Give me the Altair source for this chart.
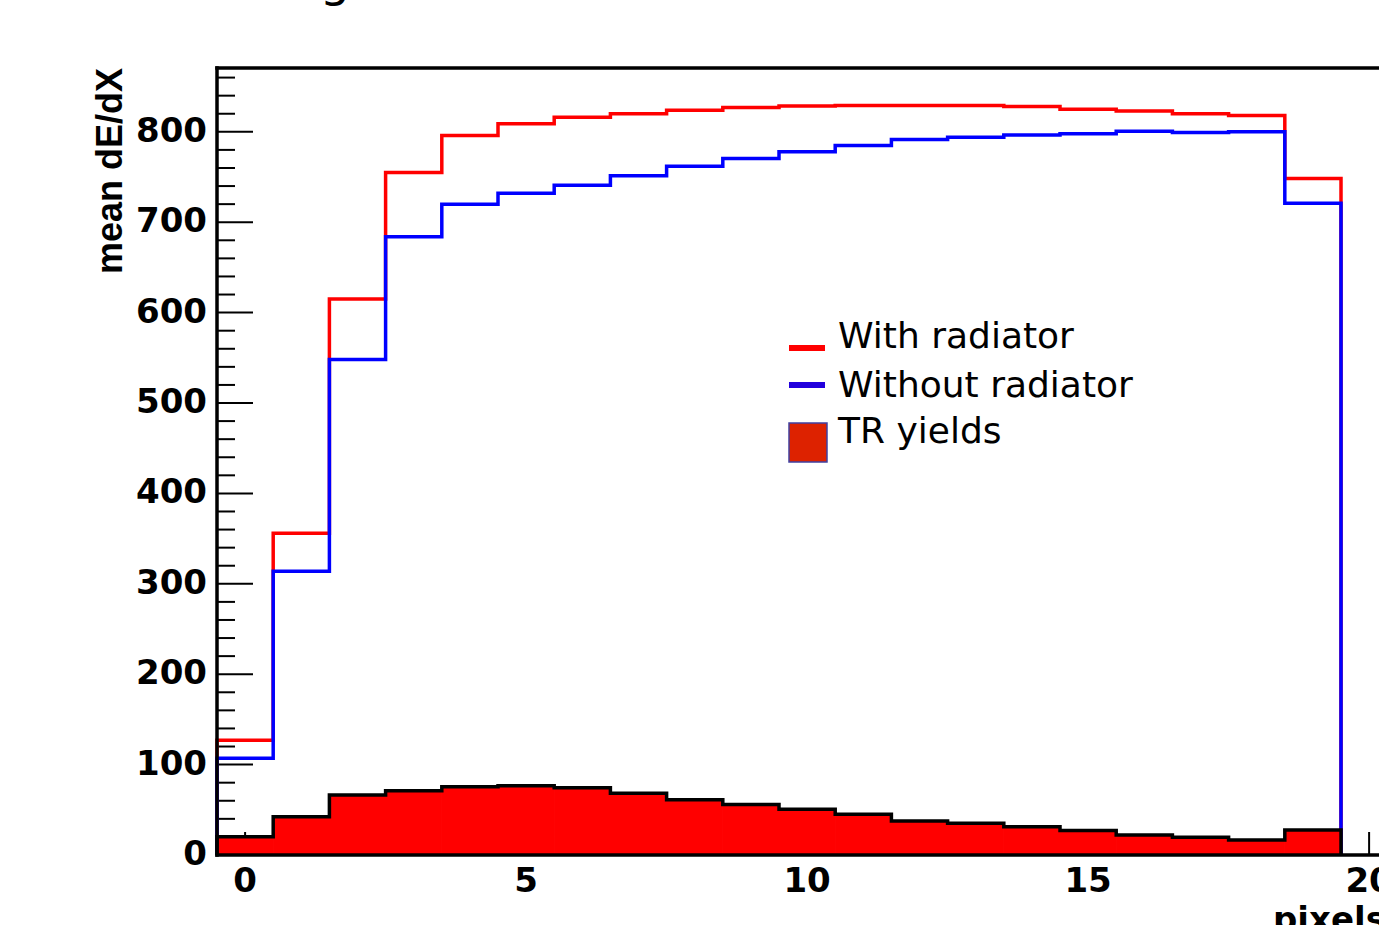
import altair as alt
import pandas as pd

# ---- data ----
bins = list(range(20))
with_rad = [127, 356, 615, 755, 796, 809, 816, 820, 824, 827, 828.5, 829, 829, 829, 828, 825, 823, 820, 818, 748.5]
without_rad = [107, 314, 548, 684, 720, 732, 741, 751.5, 762, 770.5, 778, 785, 791.5, 794, 796.5, 798, 800.5, 799.3, 800, 721]
tr_yield = [20.3, 42.4, 66.4, 71.2, 75.6, 76.7, 74.5, 68.2, 61, 56, 50.5, 45, 37.6, 35, 31.3, 27, 22, 19.5, 16.6, 27.6]
x_tick_labels = [0, 5, 10, 15, 20]
y_tick_labels = [0, 100, 200, 300, 400, 500, 600, 700, 800]
legend_labels = ["With radiator", "Without radiator", "TR yields"]
y_title = "mean dE/dX"
x_title = "pixels"

W, H = 1162, 787
xs = alt.Scale(domain=[-0.5, 20.176], nice=False, zero=False)
ys = alt.Scale(domain=[0, 870.6], nice=False, zero=False)


def step_outline(vals):
    x = [bins[0] - 0.5] + [b - 0.5 for b in bins] + [bins[-1] + 0.5, bins[-1] + 0.5]
    y = [0] + list(vals) + [vals[-1], 0]
    return pd.DataFrame({"x": x, "y": y, "idx": list(range(len(x)))})


def step_area(vals):
    x = [b - 0.5 for b in bins] + [bins[-1] + 0.5]
    y = list(vals) + [vals[-1]]
    return pd.DataFrame({"x": x, "y": y, "idx": list(range(len(x)))})


y_minor = [v for v in range(0, 861, 20) if v % 100 != 0]
x_minor = [v for v in range(0, 21) if v % 5 != 0]

one = alt.Data(values=[{"a": 0}])

# tick labels, drawn through the scales -----------------------------------
y_labels = alt.Chart(pd.DataFrame({"v": y_tick_labels})).mark_text(
    align="right", baseline="middle", font="DejaVu Sans", fontWeight="bold", fontSize=34, color="black"
).encode(y=alt.Y("v:Q", scale=ys, axis=None), text="v:Q", x=alt.value(-10))
x_labels = alt.Chart(pd.DataFrame({"v": x_tick_labels})).mark_text(
    align="center", baseline="top", font="DejaVu Sans", fontWeight="bold", fontSize=34, color="black"
).encode(x=alt.X("v:Q", scale=xs, axis=None), text="v:Q", y=alt.value(H + 10))

y_title_text = alt.Chart(one).mark_text(
    text=y_title, angle=270, align="right", baseline="alphabetic", font="Liberation Sans",
    fontWeight="bold", fontSize=36, color="black"
).encode(x=alt.value(-95), y=alt.value(0))

# ticks (inside, ROOT style) ---------------------------------------------
y_major_ticks = alt.Chart(pd.DataFrame({"v": y_tick_labels})).mark_rule(color="black", strokeWidth=2).encode(
    y=alt.Y("v:Q", scale=ys, axis=None), x=alt.value(0), x2=alt.value(36))
y_minor_ticks = alt.Chart(pd.DataFrame({"v": y_minor})).mark_rule(color="black", strokeWidth=2).encode(
    y=alt.Y("v:Q", scale=ys, axis=None), x=alt.value(0), x2=alt.value(18))
x_major_ticks = alt.Chart(pd.DataFrame({"v": x_tick_labels})).mark_rule(color="black", strokeWidth=2).encode(
    x=alt.X("v:Q", scale=xs, axis=None), y=alt.value(H), y2=alt.value(H - 23))
x_minor_ticks = alt.Chart(pd.DataFrame({"v": x_minor})).mark_rule(color="black", strokeWidth=2).encode(
    x=alt.X("v:Q", scale=xs, axis=None), y=alt.value(H), y2=alt.value(H - 11))


def hist_line(vals, color, width=3.5):
    return alt.Chart(step_outline(vals)).mark_line(
        interpolate="step-after", color=color, strokeWidth=width, strokeCap="butt", strokeJoin="miter"
    ).encode(
        x=alt.X("x:Q", scale=xs, axis=None),
        y=alt.Y("y:Q", scale=ys, axis=None),
        order="idx:Q",
    )


red_line = hist_line(with_rad, "#ff0000")
blue_line = hist_line(without_rad, "#0000ff")
fill_area = alt.Chart(step_area(tr_yield)).mark_area(
    interpolate="step-after", fill="#ff0000", stroke="#ff0000", strokeWidth=1, opacity=1
).encode(
    x=alt.X("x:Q", scale=xs, axis=None),
    y=alt.Y("y:Q", scale=ys, axis=None),
    order="idx:Q",
)
fill_outline = hist_line(tr_yield, "black", 3.5)

# frame ------------------------------------------------------------------
top_frame = alt.Chart(one).mark_rule(color="black", strokeWidth=3.5).encode(
    x=alt.value(-1.75), x2=alt.value(W), y=alt.value(0))
left_frame = alt.Chart(one).mark_rule(color="black", strokeWidth=3.5).encode(
    x=alt.value(0), y=alt.value(-1.75), y2=alt.value(H + 1.75))
bottom_frame = alt.Chart(one).mark_rule(color="black", strokeWidth=3.5).encode(
    x=alt.value(-1.75), x2=alt.value(W), y=alt.value(H))

# legend -----------------------------------------------------------------
leg_red = alt.Chart(one).mark_rule(color="#ff0000", strokeWidth=6).encode(
    x=alt.value(572), x2=alt.value(608), y=alt.value(280))
leg_blue = alt.Chart(one).mark_rule(color="#2200dd", strokeWidth=6).encode(
    x=alt.value(572), x2=alt.value(608), y=alt.value(317))
leg_box = alt.Chart(one).mark_rect(color="#dd2200", stroke="#4040a0", strokeWidth=1.5).encode(
    x=alt.value(572), x2=alt.value(610), y=alt.value(355), y2=alt.value(394))


def leg_text(txt, ypos):
    return alt.Chart(one).mark_text(
        text=txt, align="left", baseline="alphabetic", font="DejaVu Sans", fontSize=36, color="black"
    ).encode(x=alt.value(621), y=alt.value(ypos))


legend_texts = [leg_text(t, yp) for t, yp in zip(legend_labels, [280, 328.7, 375.3])]

x_title_text = alt.Chart(one).mark_text(
    text=x_title, align="left", baseline="alphabetic", font="DejaVu Sans", fontWeight="bold",
    fontSize=34, color="black").encode(x=alt.value(1056), y=alt.value(863))

cut_title = alt.Chart(one).mark_text(
    text="g", align="center", baseline="alphabetic", font="DejaVu Sans", fontSize=48, color="black"
).encode(x=alt.value(118), y=alt.value(-72))

chart = alt.layer(
    y_minor_ticks, y_major_ticks, x_minor_ticks, x_major_ticks,
    red_line, blue_line, fill_area, fill_outline,
    top_frame, left_frame, bottom_frame,
    y_labels, x_labels, y_title_text,
    leg_red, leg_blue, leg_box, *legend_texts, x_title_text, cut_title,
).properties(
    width=W, height=H,
    autosize=alt.AutoSizeParams(type="none"),
    padding={"left": 217, "top": 68, "right": 0, "bottom": 70},
    background="white",
).configure_view(stroke=None)

chart.save("out.html", embed_options={"renderer": "svg", "actions": False})
